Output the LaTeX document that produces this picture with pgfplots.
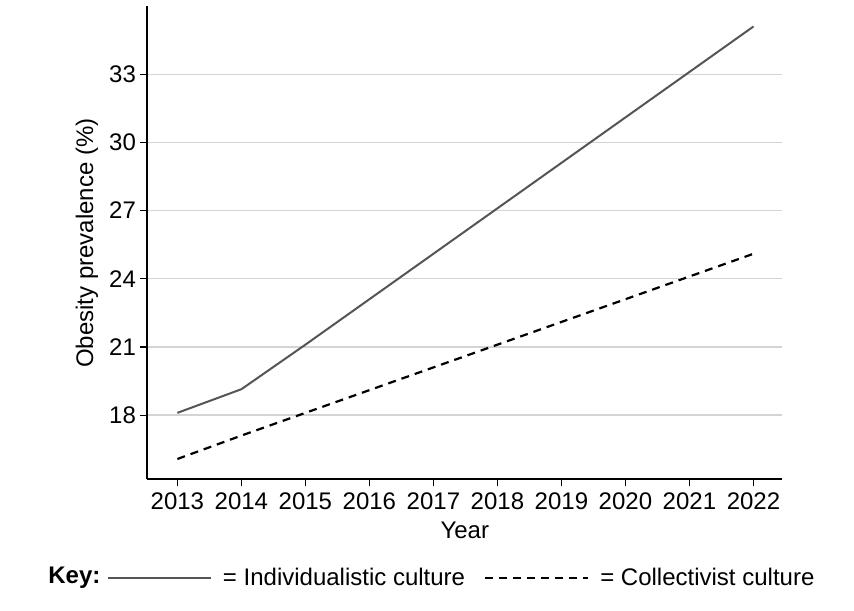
\documentclass[border=0pt]{standalone}
\usepackage{pgfplots}
\pgfplotsset{compat=1.18}
\usepackage{fontspec}
\setmainfont{Liberation Sans}

\definecolor{indiv}{HTML}{555555}
\definecolor{gridc}{HTML}{D4D4D4}

\begin{document}
\begin{tikzpicture}[font=\fontsize{12}{14.4}\selectfont]
\begin{axis}[
    scale only axis,
    width=317.5pt, height=236.7pt,
    xmin=2012.53, xmax=2022.45,
    ymin=15.17, ymax=36.0,
    axis lines=left,
    axis line style={-, line width=1pt},
    tick align=outside,
    major tick length=3.5pt,
    tick style={line width=0.6pt, black},
    xtick={2013,...,2022},
    ytick={18,21,...,33},
    ymajorgrids,
    grid style={gridc, line width=0.7pt},
    /pgf/number format/assume math mode=true,
    /pgf/number format/1000 sep={},
    tick label style={font=\fontsize{12}{14.4}\selectfont},
    label style={font=\fontsize{12.5}{15}\selectfont},
    xticklabel style={inner sep=0pt, yshift=-3pt},
    yticklabel style={inner sep=0pt, xshift=-2pt},
    every axis y label/.style={at={(axis description cs:-0.095,0.499)}, rotate=90, anchor=center},
    every axis x label/.style={at={(axis description cs:0.5,-0.107)}, anchor=center},
    ylabel={Obesity prevalence (\%)},
    xlabel={Year},
    clip=false,
    legend columns=2,
    legend style={draw=none, fill=none, inner sep=0pt, outer sep=0pt,
      font=\fontsize{12}{14.4}\selectfont,
      at={(axis description cs:-0.0635,-0.2085)}, anchor=west,
      nodes={inner sep=0pt, anchor=west},
      /tikz/every odd column/.append style={column sep=5.5pt},
      /tikz/every even column/.append style={column sep=9.5pt},
      /tikz/column 3/.append style={column sep=3pt}},
    legend image code/.code={\draw[#1] (0pt,0pt) -- (51.5pt,0pt);},
]
\addplot[indiv, line width=1pt] coordinates {
  (2013,18.1) (2014,19.14) (2015,21.1) (2016,23.1) (2017,25.1)
  (2018,27.1) (2019,29.1) (2020,31.1) (2021,33.1) (2022,35.1)};
\addlegendentry{= Individualistic culture}
\addplot[black, line width=1.1pt, dash pattern=on 4pt off 3pt] coordinates {
  (2013,16.07) (2014,17.1) (2015,18.1) (2016,19.1) (2017,20.1)
  (2018,21.1) (2019,22.1) (2020,23.1) (2021,24.1) (2022,25.1)};
\addlegendentry{= Collectivist culture}
\node[font=\fontsize{12}{14.4}\selectfont\bfseries, inner sep=0pt, anchor=west] at (axis description cs:-0.1564,-0.2085) {Key:};
\path (axis description cs:-0.232,1.0127) rectangle (axis description cs:1.1129,-0.2761);
\end{axis}
\end{tikzpicture}
\end{document}
